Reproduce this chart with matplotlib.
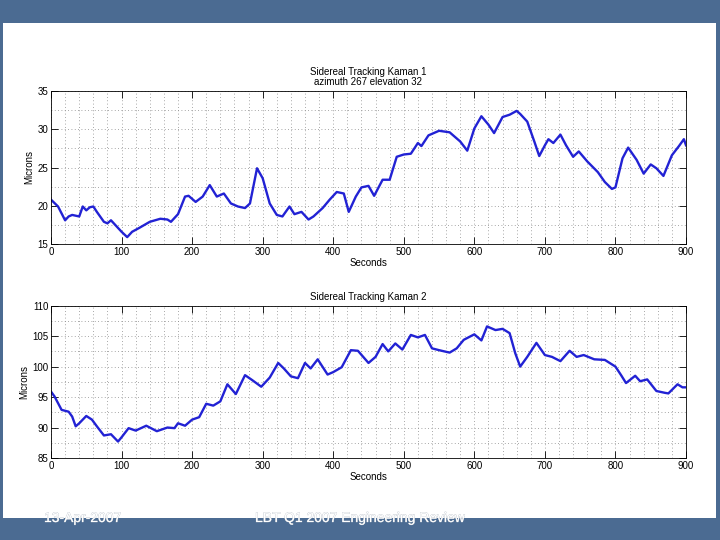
import matplotlib
matplotlib.use('Agg')
import matplotlib.pyplot as plt
import matplotlib.patheffects as pe
from matplotlib.patches import Rectangle
from matplotlib.ticker import MultipleLocator

# Kaman 1 (azimuth 267, elevation 32)
t1 = [0, 10, 20, 25, 30, 40, 45, 50, 55, 60, 65, 75, 80, 85, 90, 100, 108,
      115, 125, 140, 155, 165, 170, 180, 190, 195, 205, 215, 225, 235, 245,
      255, 265, 275, 282, 292, 300, 310, 320, 328, 338, 345, 355, 365, 372,
      385, 395, 405, 415, 422, 432, 440, 450, 458, 470, 480, 490, 500, 510,
      520, 525, 535, 550, 565, 580, 590, 600, 610, 620, 628, 640, 650, 660,
      665, 675, 685, 692, 700, 705, 712, 722, 730, 740, 748, 760, 775, 785,
      795, 800, 810, 818, 830, 840, 850, 858, 868, 880, 890, 897, 900]
k1 = [20.8, 19.9, 18.1, 18.6, 18.8, 18.6, 19.9, 19.4, 19.8, 19.9, 19.2, 17.9,
      17.7, 18.1, 17.6, 16.6, 15.9, 16.6, 17.1, 17.9, 18.3, 18.2, 17.9, 18.9,
      21.2, 21.3, 20.5, 21.2, 22.7, 21.2, 21.6, 20.3, 19.9, 19.7, 20.3, 24.9,
      23.6, 20.3, 18.8, 18.6, 19.9, 18.9, 19.2, 18.2, 18.6, 19.7, 20.8, 21.8,
      21.6, 19.2, 21.2, 22.4, 22.6, 21.3, 23.4, 23.4, 26.4, 26.7, 26.8, 28.2,
      27.8, 29.2, 29.8, 29.6, 28.4, 27.2, 30.1, 31.7, 30.6, 29.5, 31.6, 31.9,
      32.4, 32.0, 31.0, 28.4, 26.5, 27.9, 28.7, 28.2, 29.3, 27.9, 26.4, 27.1,
      25.8, 24.4, 23.1, 22.2, 22.4, 26.2, 27.6, 26.0, 24.2, 25.4, 24.9, 23.9,
      26.6, 27.8, 28.7, 27.9]

# Kaman 2
t2 = [0, 5, 15, 25, 30, 35, 40, 50, 58, 65, 75, 85, 95, 100, 110, 120, 135,
      150, 165, 175, 180, 190, 200, 210, 220, 230, 240, 250, 262, 275, 285,
      298, 310, 322, 330, 340, 350, 360, 368, 378, 392, 400, 412, 425, 435,
      450, 460, 470, 478, 488, 498, 510, 520, 530, 540, 550, 565, 575, 585,
      595, 600, 605, 610, 618, 630, 640, 650, 658, 665, 675, 688, 700, 710,
      722, 735, 745, 755, 770, 785, 800, 808, 815, 828, 835, 845, 858, 870,
      875, 888, 895, 900]
k2 = [95.9, 95.1, 92.9, 92.6, 91.8, 90.2, 90.7, 91.9, 91.3, 90.2, 88.7, 88.9,
      87.7, 88.4, 89.9, 89.5, 90.3, 89.4, 90.0, 89.9, 90.7, 90.3, 91.3, 91.7,
      93.9, 93.6, 94.3, 97.1, 95.5, 98.6, 97.8, 96.7, 98.2, 100.6, 99.7, 98.4,
      98.1, 100.6, 99.7, 101.2, 98.7, 99.1, 99.9, 102.7, 102.6, 100.6, 101.6,
      103.7, 102.5, 103.8, 102.8, 105.2, 104.8, 105.2, 103.0, 102.7, 102.3,
      103.0, 104.4, 105.0, 105.3, 104.8, 104.3, 106.6, 106.0, 106.2, 105.5,
      102.2, 100.0, 101.6, 103.9, 101.9, 101.6, 100.9, 102.6, 101.6, 101.9,
      101.2, 101.1, 100.0, 98.6, 97.3, 98.5, 97.6, 97.9, 96.0, 95.7, 95.6,
      97.1, 96.6, 96.6]

BG = '#4b6b92'
LINE = '#2222d4'
FONT = ['Liberation Sans', 'DejaVu Sans']

plt.rcParams['font.family'] = FONT
plt.rcParams['font.size'] = 7


def style_axes(ax, ylim, ystep):
    ax.set_xlim(0, 900)
    ax.set_ylim(*ylim)
    ax.xaxis.set_major_locator(MultipleLocator(100))
    ax.xaxis.set_minor_locator(MultipleLocator(20))
    ax.yaxis.set_major_locator(MultipleLocator(ystep))
    ax.yaxis.set_minor_locator(MultipleLocator(ystep / 2))
    ax.tick_params(which='major', direction='in', length=5, width=0.6,
                   top=True, right=True, labelsize=7, pad=2)
    ax.tick_params(which='minor', length=0)
    ax.grid(True, which='both', color='#8a8a8a', linestyle=(0, (1, 3)),
            linewidth=0.6)
    for s in ax.spines.values():
        s.set_linewidth(0.6)
    ax.set_xlabel('Seconds', fontsize=7, labelpad=1)
    ax.set_ylabel('Microns', fontsize=7, labelpad=2)


fig = plt.figure(figsize=(7.2, 5.4), dpi=100, facecolor=BG)
fig.patches.append(Rectangle((3 / 720, 1 - 517.5 / 540), 713 / 720,
                             (517.5 - 22.5) / 540, transform=fig.transFigure,
                             facecolor='white', edgecolor='none', zorder=-5))

ax1 = fig.add_axes([51 / 720, 1 - 244 / 540, 635 / 720, 153 / 540])
ax1.plot(t1, k1, color=LINE, linewidth=1.7, solid_joinstyle='round')
style_axes(ax1, (15, 35), 5)
ax1.set_title('Sidereal Tracking Kaman 1\nazimuth 267 elevation 32',
              fontsize=7, pad=4, linespacing=1.0)

ax2 = fig.add_axes([51 / 720, 1 - 458 / 540, 635 / 720, 152.3 / 540])
ax2.plot(t2, k2, color=LINE, linewidth=1.7, solid_joinstyle='round')
style_axes(ax2, (85, 110), 5)
ax2.set_title('Sidereal Tracking Kaman 2', fontsize=7, pad=4)

footer = [pe.withStroke(linewidth=0.4, foreground='#b0b8c2')]
fig.text(44 / 720, 1 - 518 / 540, '13-Apr-2007', color='white', fontsize=10,
         va='center', ha='left', path_effects=footer)
fig.text(255 / 720, 1 - 518 / 540, 'LBT Q1 2007 Engineering Review',
         color='white', fontsize=10, va='center', ha='left',
         path_effects=footer)

fig.savefig('out.png', dpi=100, facecolor=BG)
